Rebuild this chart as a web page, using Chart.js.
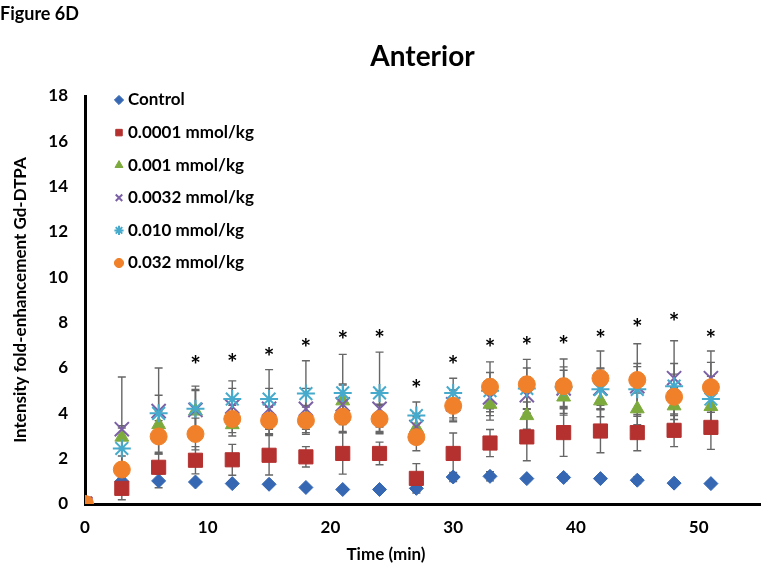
<!DOCTYPE html>
<html><head><meta charset="utf-8">
<script src="https://cdn.jsdelivr.net/npm/chart.js@4.4.1/dist/chart.umd.min.js"></script>
<style>html,body{margin:0;padding:0;background:#fff}</style>
</head><body>
<canvas id="c" width="772" height="578"></canvas>
<script>
// ---- data ----
const times = [0,3,6,9,12,15,18,21,24,27,30,33,36,39,42,45,48,51];
const seriesNames = ['Control','0.0001 mmol/kg','0.001 mmol/kg','0.0032 mmol/kg','0.010 mmol/kg','0.032 mmol/kg'];
const control   = [0,1.00,1.02,0.97,0.90,0.87,0.73,0.64,0.64,0.69,1.19,1.22,1.12,1.17,1.12,1.05,0.92,0.90];
const dose0001  = [0,0.69,1.62,1.93,1.95,2.15,2.08,2.23,2.23,1.13,2.23,2.69,2.96,3.15,3.22,3.15,3.25,3.38];
const dose001   = [0,2.95,3.50,4.10,3.50,3.70,3.75,4.55,3.80,3.35,4.30,4.40,3.90,4.72,4.55,4.20,4.33,4.30];
const dose0032  = [0,3.30,4.10,4.15,4.30,4.20,4.20,4.40,4.20,3.40,4.40,4.70,4.80,5.10,5.10,5.20,5.55,5.55];
const dose010   = [0,2.45,4.00,4.20,4.63,4.63,4.87,4.90,4.90,3.90,4.90,5.00,5.10,5.15,5.06,5.06,5.20,4.63];
const dose032   = [0,1.52,2.98,3.09,3.75,3.68,3.68,3.85,3.75,2.95,4.33,5.17,5.28,5.20,5.55,5.47,4.73,5.15];
// error bar half-lengths (estimated)
const errControl  = [0,0.15,0.30,0.10,0.10,0.10,0.10,0.10,0.10,0.15,0.20,0.20,0.10,0.15,0.10,0.15,0.10,0.10];
const err0001     = [0,0.50,0.60,0.60,0.68,0.87,0.45,0.91,0.50,0.65,0.90,0.60,1.05,1.05,0.96,0.80,0.72,0.97];
const err001      = [0,0.50,0.60,0.90,0.50,0.60,0.60,0.70,0.60,0.50,0.60,0.70,0.60,0.80,0.70,0.70,0.80,0.80];
const err0032     = [0,2.30,1.90,0.90,0.80,0.90,0.90,0.90,0.80,0.60,0.60,0.80,0.80,0.80,0.90,1.00,1.65,1.20];
const err010      = [0,0.90,0.80,1.00,0.80,1.30,1.45,1.70,1.80,0.60,0.65,0.80,0.90,0.90,0.90,1.00,1.00,1.00];
const err032      = [0,0.60,0.70,0.70,0.60,0.60,0.60,0.70,0.60,0.60,0.70,1.10,1.10,1.20,1.20,1.60,1.00,1.10];
// significance asterisks
const sigTimes   = [9,12,15,18,21,24,27,30,33,36,39,42,45,48,51];
const sigHeights = [6.30,6.40,6.67,7.04,7.40,7.47,5.25,6.30,7.04,7.15,7.20,7.47,7.94,8.20,7.47];
// axis ticks
const yTicksMax = 18, yStep = 2, xMax = 55, xStep = 10;

const FONT = 'Lato, "Open Sans", sans-serif';
const allValues = [control, dose0001, dose001, dose0032, dose010, dose032];
const allErrors = [errControl, err0001, err001, err0032, err010, err032];
const styles = [
  {pointStyle:'rectRot', color:'#3567B3', radius:7,  bw:1},
  {pointStyle:'rect',    color:'#B4312F', radius:10, bw:1},
  {pointStyle:'triangle',color:'#7DAA3C', radius:8,  bw:1},
  {pointStyle:'crossRot',color:'#7B60A6', radius:10, bw:2},
  {pointStyle:'star',    color:'#45AACB', radius:9,  bw:2},
  {pointStyle:'circle',  color:'#F0812A', radius:8.5,bw:1}
];

const datasets = allValues.map((vals, k) => ({
  label: seriesNames[k],
  data: times.map((t, i) => ({x: t, y: vals[i]})),
  errors: allErrors[k],
  showLine: false,
  pointStyle: styles[k].pointStyle,
  pointRadius: styles[k].radius,
  pointHoverRadius: styles[k].radius,
  backgroundColor: styles[k].color,
  borderColor: styles[k].color,
  pointBorderWidth: styles[k].bw,
  borderWidth: styles[k].bw,
  order: allValues.length - 1 - k
}));

const errorBars = {
  id: 'errorBars',
  beforeDatasetsDraw(chart) {
    const {ctx, scales: {x, y}} = chart;
    ctx.save();
    ctx.strokeStyle = '#666';
    ctx.lineWidth = 1.4;
    chart.data.datasets.forEach(ds => {
      ds.data.forEach((p, i) => {
        const e = ds.errors[i];
        if (!e) return;
        const px = x.getPixelForValue(p.x);
        const y1 = y.getPixelForValue(p.y + e);
        const y2 = y.getPixelForValue(Math.max(0, p.y - e));
        ctx.beginPath();
        ctx.moveTo(px, y1); ctx.lineTo(px, y2);
        ctx.moveTo(px - 4, y1); ctx.lineTo(px + 4, y1);
        ctx.moveTo(px - 4, y2); ctx.lineTo(px + 4, y2);
        ctx.stroke();
      });
    });
    ctx.restore();
  }
};

const asterisks = {
  id: 'asterisks',
  afterDatasetsDraw(chart) {
    const {ctx, scales: {x, y}} = chart;
    ctx.save();
    ctx.fillStyle = '#000';
    ctx.font = 'bold 25px ' + FONT;
    ctx.textAlign = 'center';
    ctx.textBaseline = 'middle';
    sigTimes.forEach((t, i) => {
      ctx.fillText('*', x.getPixelForValue(t), y.getPixelForValue(sigHeights[i]) + 5);
    });
    ctx.restore();
  }
};

const layoutTweak = {
  id: 'layoutTweak',
  afterLayout(chart) {
    const lg = chart.legend;
    const pad = lg.options.labels.padding;
    lg.left = chart.chartArea.left + 33.5 - pad;
    lg.top = chart.chartArea.top + 4 - 8.5 - pad;
    // x-axis title is centred on the whole figure in the reference
    const xs = chart.scales.x;
    if (!xs._titleWrapped) {
      const orig = xs.drawTitle;
      xs.drawTitle = function () {
        const l = this.left, r = this.right;
        this.left = 0; this.right = chart.width;
        orig.apply(this, arguments);
        this.left = l; this.right = r;
      };
      xs._titleWrapped = true;
    }
  }
};

new Chart(document.getElementById('c'), {
  type: 'line',
  data: { datasets },
  plugins: [errorBars, asterisks, layoutTweak],
  options: {
    responsive: false,
    animation: false,
    layout: { padding: { left: 0, right: 7, top: 0, bottom: 0 } },
    plugins: {
      title: {
        display: true, text: 'Figure 6D', align: 'start', color: '#000',
        font: { family: FONT, size: 18, weight: 'bold' }, padding: { top: 3, bottom: 0 }
      },
      subtitle: {
        display: true, text: 'Anterior', align: 'center', color: '#000', fullSize: false,
        font: { family: FONT, size: 28, weight: 'bold' }, padding: { top: 15.6, bottom: 22.2 }
      },
      legend: {
        position: 'chartArea', align: 'start',
        labels: {
          usePointStyle: true, boxWidth: 1, boxHeight: 6.5, padding: 15.6, color: '#000',
          font: { family: FONT, size: 17, weight: 'bold' },
          sort: (a, b) => a.datasetIndex - b.datasetIndex
        }
      },
      tooltip: { enabled: false }
    },
    scales: {
      x: {
        type: 'linear', min: 0, max: xMax,
        grid: { display: false },
        border: { color: '#000', width: 3 },
        ticks: { stepSize: xStep, includeBounds: false, padding: 5, color: '#000',
                 font: { family: FONT, size: 17, weight: 'bold' } },
        title: { display: true, text: 'Time (min)', color: '#000',
                 font: { family: FONT, size: 17, weight: 'bold' }, padding: { top: 4, bottom: 13 } },
        afterFit(s) { s.height = 74; }
      },
      y: {
        type: 'linear', min: 0, max: yTicksMax,
        grid: { display: false },
        border: { color: '#000', width: 3 },
        ticks: { stepSize: yStep, padding: 9, color: '#000',
                 font: { family: FONT, size: 17, weight: 'bold' } },
        title: { display: true, text: 'Intensity fold-enhancement Gd-DTPA', color: '#000',
                 font: { family: FONT, size: 17, weight: 'bold' }, padding: { top: 10, bottom: 0 } },
        afterFit(s) { s.width = 85; }
      }
    }
  }
});
</script>
</body></html>
